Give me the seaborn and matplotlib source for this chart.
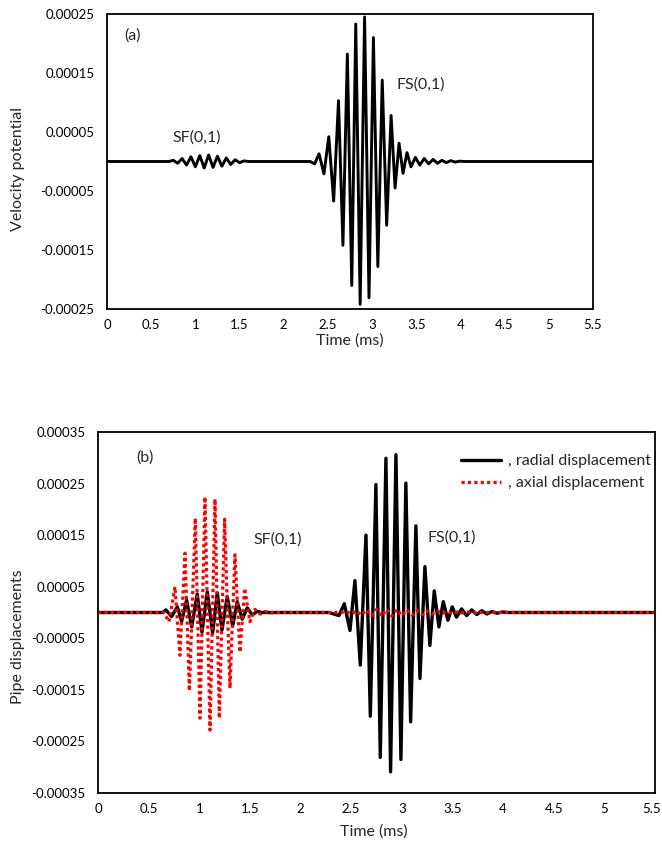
import matplotlib
matplotlib.use("Agg")
import matplotlib.pyplot as plt
import matplotlib.transforms as mtransforms
import seaborn as sns
import pandas as pd
from matplotlib.ticker import FuncFormatter

# ---------------- data (in units of 1e-4) ----------------
# Panel (a): velocity potential, extrema of the wave packets
time_a = [0.0, 0.70, 0.75, 0.80, 0.85, 0.90, 0.95, 1.00, 1.05, 1.10, 1.15, 1.20, 1.25,
          1.30, 1.35, 1.40, 1.45, 1.50, 1.55, 1.60,
          2.30, 2.35, 2.40, 2.455, 2.51, 2.565, 2.62, 2.67, 2.72, 2.77, 2.815, 2.865,
          2.915, 2.965, 3.015, 3.065, 3.115, 3.165, 3.215, 3.26, 3.305, 3.35, 3.395,
          3.44, 3.49, 3.54, 3.59, 3.64, 3.69, 3.74, 3.79, 3.84, 3.89, 3.94, 3.99,
          4.05, 5.5]
vel_a_e4 = [0.0, 0.0, 0.02, -0.03, 0.05, -0.06, 0.08, -0.09, 0.10, -0.11, 0.11, -0.10, 0.09,
            -0.08, 0.06, -0.05, 0.03, -0.02, 0.01, 0.0,
            0.0, -0.04, 0.13, -0.21, 0.42, -0.67, 1.03, -1.42, 1.82, -2.10, 2.33, -2.42,
            2.45, -2.31, 2.10, -1.78, 1.38, -1.08, 0.78, -0.45, 0.31, -0.20, 0.15,
            -0.09, 0.07, -0.06, 0.05, -0.04, 0.035, -0.03, 0.02, -0.02, 0.015, -0.01, 0.005,
            0.0, 0.0]

# Panel (b): radial displacement (black)
time_rad = [0.0, 0.64, 0.671, 0.727, 0.783, 0.826, 0.875, 0.925, 0.980, 1.027, 1.079,
            1.132, 1.178, 1.224, 1.276, 1.330, 1.375, 1.424, 1.474, 1.523, 1.57, 1.62,
            2.28, 2.379, 2.432, 2.488, 2.537, 2.590, 2.646, 2.689, 2.744, 2.787, 2.843,
            2.889, 2.942, 2.991, 3.040, 3.087, 3.139, 3.179, 3.228, 3.277, 3.320, 3.366,
            3.409, 3.455, 3.498, 3.54, 3.59, 3.64, 3.69, 3.74, 3.79, 3.84, 3.89, 3.94,
            3.99, 4.05, 5.5]
rad_e4 = [0.0, 0.0, 0.05, -0.08, 0.11, -0.17, 0.24, -0.28, 0.36, -0.38, 0.40,
          -0.40, 0.38, -0.34, 0.31, -0.26, 0.21, -0.13, 0.09, -0.05, 0.02, 0.0,
          0.0, -0.06, 0.17, -0.35, 0.62, -1.02, 1.50, -2.01, 2.48, -2.81, 2.99,
          -3.09, 3.06, -2.85, 2.51, -2.12, 1.68, -1.28, 0.89, -0.64, 0.42, -0.28,
          0.21, -0.15, 0.11, -0.09, 0.07, -0.06, 0.05, -0.04, 0.035, -0.03, 0.02, -0.015,
          0.01, 0.0, 0.0]

# Panel (b): axial displacement (red dotted)
time_ax = [0.0, 0.65, 0.701, 0.760, 0.809, 0.859, 0.902, 0.961, 1.007, 1.056, 1.106,
           1.155, 1.198, 1.250, 1.303, 1.352, 1.402, 1.448, 1.500, 1.55, 1.60, 1.65,
           1.70, 1.76,
           2.40, 2.45, 2.50, 2.55, 2.60, 2.65, 2.70, 2.75, 2.80, 2.85, 2.90, 2.95, 3.00,
           3.05, 3.10, 3.15, 3.20, 3.25, 3.30, 3.35, 3.40, 3.45, 3.50, 3.55, 3.60, 3.65,
           3.70, 3.80, 5.5]
ax_e4 = [0.0, 0.0, -0.18, 0.50, -0.83, 1.15, -1.52, 1.83, -2.05, 2.24, -2.28,
         2.20, -2.05, 1.81, -1.47, 1.12, -0.77, 0.47, -0.18, 0.06, -0.03, 0.02,
         -0.01, 0.0,
         0.0, 0.02, -0.03, 0.03, -0.05, 0.05, -0.06, 0.06, -0.07, 0.06, -0.07, 0.06, -0.06,
         0.05, -0.05, 0.04, -0.04, 0.03, -0.03, 0.03, -0.02, 0.02, -0.02, 0.015, -0.01, 0.01,
         -0.005, 0.0, 0.0]

SCALE = 1e-4
x_ticks = [0, 0.5, 1, 1.5, 2, 2.5, 3, 3.5, 4, 4.5, 5, 5.5]
y_ticks_a = [-0.00025, -0.00015, -0.00005, 0.00005, 0.00015, 0.00025]
y_ticks_b = [-0.00035, -0.00025, -0.00015, -0.00005, 0.00005, 0.00015, 0.00025, 0.00035]

df_a = pd.DataFrame({"t": time_a, "v": [v * SCALE for v in vel_a_e4]})
df_r = pd.DataFrame({"t": time_rad, "v": [v * SCALE for v in rad_e4]})
df_x = pd.DataFrame({"t": time_ax, "v": [v * SCALE for v in ax_e4]})

# ---------------- style ----------------
sns.set_style("white")
plt.rcParams["font.family"] = ["Lato", "DejaVu Sans"]
plt.rcParams["axes.unicode_minus"] = False

fig = plt.figure(figsize=(6.62, 8.43), dpi=100)
W, H = 662, 843


def axes_px(left, top, right, bottom):
    return fig.add_axes([left / W, 1 - bottom / H, (right - left) / W, (bottom - top) / H])


ax1 = axes_px(107, 14, 593, 309)
ax2 = axes_px(98, 432, 655, 793)

sns.lineplot(data=df_a, x="t", y="v", ax=ax1, color="black", lw=2.1,
             sort=False, estimator=None)
sns.lineplot(data=df_r, x="t", y="v", ax=ax2, color="black", lw=2.4,
             sort=False, estimator=None, label=", radial displacement")
sns.lineplot(data=df_x, x="t", y="v", ax=ax2, color="red", lw=2.3,
             sort=False, estimator=None, label=", axial displacement",
             linestyle=(0, (1.0, 1.0)))

yfmt = FuncFormatter(lambda v, p: f"{v:.5f}".replace("\u2212", "-"))
xfmt = FuncFormatter(lambda v, p: f"{v:g}")

LBL = 11.5
for ax, yt, ylim in [(ax1, y_ticks_a, (-0.00025, 0.00025)),
                     (ax2, y_ticks_b, (-0.00035, 0.00035))]:
    ax.set_xlim(0, 5.5)
    ax.set_ylim(*ylim)
    ax.set_xticks(x_ticks)
    ax.set_yticks(yt)
    ax.xaxis.set_major_formatter(xfmt)
    ax.yaxis.set_major_formatter(yfmt)
    for s in ax.spines.values():
        s.set_visible(True)
        s.set_color("black")
        s.set_linewidth(1.3)
    ax.tick_params(axis="both", direction="in", length=4, width=1.0, colors="black",
                   labelsize=9.5, labelcolor="black")
    ax.tick_params(axis="x", pad=7)
    ax.tick_params(axis="y", pad=9)
    ax.set_xlabel("Time (ms)", fontsize=LBL)
    ax.grid(False)

ax1.set_ylabel("Velocity potential", fontsize=LBL)
ax2.set_ylabel("Pipe displacements", fontsize=LBL)
ax1.yaxis.set_label_coords(-0.168, 0.475)
ax2.yaxis.set_label_coords(-0.131, 0.432)
ax1.xaxis.set_label_coords(0.5, -0.082)
ax2.xaxis.set_label_coords(0.495, -0.086)

# nudge the last x tick label of the lower panel so it stays inside the figure
fig.canvas.draw()
last = ax2.get_xticklabels()[-1]
last.set_transform(last.get_transform() +
                   mtransforms.ScaledTranslation(-3 / 100, 0, fig.dpi_scale_trans))

# annotations
ax1.text(0.29, 2.13e-4, "(a)", fontsize=LBL, ha="center", va="center")
ax1.text(1.01, 0.40e-4, "SF(0,1)", fontsize=LBL, ha="center", va="center")
ax1.text(3.55, 1.31e-4, "FS(0,1)", fontsize=LBL, ha="center", va="center")
ax2.text(0.46, 3.0e-4, "(b)", fontsize=LBL, ha="center", va="center")
ax2.text(1.77, 1.41e-4, "SF(0,1)", fontsize=LBL, ha="center", va="center")
ax2.text(3.49, 1.45e-4, "FS(0,1)", fontsize=LBL, ha="center", va="center")

ax2.legend(loc="upper right", bbox_to_anchor=(0.993, 0.939), frameon=False,
           fontsize=LBL, handlelength=2.5, handletextpad=0.45, labelspacing=0.5,
           borderpad=0, borderaxespad=0)

fig.savefig("out.png", dpi=100)
